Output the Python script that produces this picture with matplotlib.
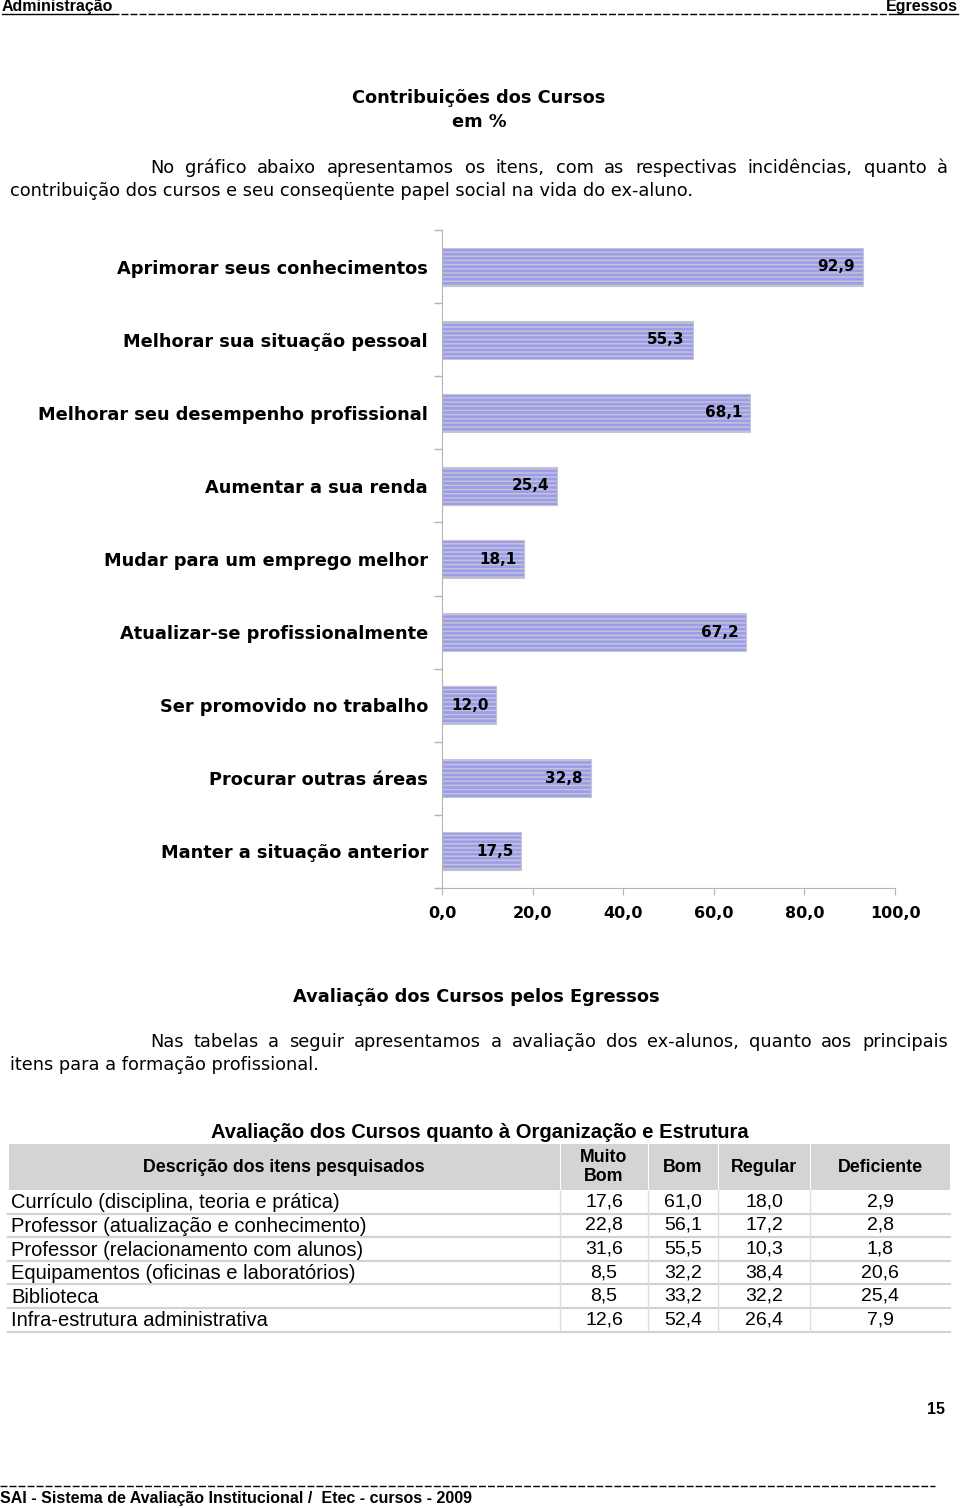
import matplotlib
matplotlib.use("Agg")
import matplotlib.pyplot as plt
from matplotlib import font_manager
from matplotlib.patches import Rectangle
import numpy as np

# bar chart data (top to bottom)
labels = ["Aprimorar seus conhecimentos", "Melhorar sua situação pessoal",
          "Melhorar seu desempenho profissional", "Aumentar a sua renda",
          "Mudar para um emprego melhor", "Atualizar-se profissionalmente",
          "Ser promovido no trabalho", "Procurar outras áreas",
          "Manter a situação anterior"]
values = [92.9, 55.3, 68.1, 25.4, 18.1, 67.2, 12.0, 32.8, 17.5]
xticks = [0, 20, 40, 60, 80, 100]

# table data
table_title = "Avaliação dos Cursos quanto à Organização e Estrutura"
col_headers = ["Descrição dos itens pesquisados", "Muito\nBom", "Bom", "Regular", "Deficiente"]
items = ["Currículo (disciplina, teoria e prática)",
         "Professor (atualização e conhecimento)",
         "Professor (relacionamento com alunos)",
         "Equipamentos (oficinas e laboratórios)",
         "Biblioteca",
         "Infra-estrutura administrativa"]
muito_bom = [17.6, 22.8, 31.6, 8.5, 8.5, 12.6]
bom = [61.0, 56.1, 55.5, 32.2, 33.2, 52.4]
regular = [18.0, 17.2, 10.3, 38.4, 32.2, 26.4]
deficiente = [2.9, 2.8, 1.8, 20.6, 25.4, 7.9]

installed = {f.name for f in font_manager.fontManager.ttflist}
narrow = "Liberation Sans Narrow" if "Liberation Sans Narrow" in installed else "Liberation Sans"

plt.rcParams["font.family"] = "DejaVu Sans"
plt.rcParams["hatch.linewidth"] = 1.1


def fmt(v):
    return f"{v:.1f}".replace(".", ",")


W, H = 960, 1508
fig = plt.figure(figsize=(W / 100, H / 100), dpi=100)

# page axes in pixel coordinates, for all the running text and the table
page = fig.add_axes([0, 0, 1, 1])
page.set_xlim(0, W)
page.set_ylim(H, 0)
page.axis("off")
renderer = fig.canvas.get_renderer()


def justify(line, x0, x1, y, **kw):
    words = line.split()
    ts = [page.text(0, y, w, va="center", **kw) for w in words]
    widths = [t.get_window_extent(renderer).width for t in ts]
    gap = (x1 - x0 - sum(widths)) / (len(ts) - 1)
    x = x0
    for t, w in zip(ts, widths):
        t.set_x(x)
        x += w + gap


# page header
page.text(2, 6, "Administração", fontsize=11.5, fontweight="bold", family=narrow, va="center")
page.text(958, 6, "Egressos", fontsize=11.5, fontweight="bold", family=narrow, va="center", ha="right")
page.plot([2, 112], [14, 14], color="k", lw=1)
page.plot([112, 890], [14, 14], color="k", lw=1, dashes=(5, 1.5))
page.plot([890, 958], [14, 14], color="k", lw=1)

# section 1
page.text(479, 98, "Contribuições dos Cursos", fontsize=12.8, fontweight="bold", ha="center", va="center")
page.text(479, 122, "em %", fontsize=12.8, fontweight="bold", ha="center", va="center")
justify("No gráfico abaixo apresentamos os itens, com as respectivas incidências, quanto à",
        150, 948, 168, fontsize=12.8)
page.text(10, 191, "contribuição dos cursos e seu conseqüente papel social na vida do ex-aluno.",
          fontsize=12.8, va="center")

# bar chart
ax = fig.add_axes([442 / W, 1 - 888 / H, 453 / W, 658 / H])
y = np.arange(len(labels))
ax.barh(y, values, height=0.52, color="#9c9cec", edgecolor="#c4c4d4", hatch="----", linewidth=0.8)
for i, v in enumerate(values):
    ax.text(v - 1.7, i, fmt(v), ha="right", va="center", fontsize=11, fontweight="bold")
ax.set_xlim(0, 100)
ax.set_ylim(len(labels) - 0.5, -0.5)
ax.set_yticks(y)
ax.set_yticklabels(labels, fontsize=12.8, fontweight="bold")
ax.set_yticks(np.arange(-0.5, len(labels)), minor=True)
ax.tick_params(axis="y", which="major", length=0, pad=10)
ax.tick_params(axis="y", which="minor", length=6, color="#b4b4b4", width=1)
ax.set_xticks(xticks)
ax.set_xticklabels([fmt(t) for t in xticks], fontsize=11.5, fontweight="bold")
ax.tick_params(axis="x", length=5, color="#b4b4b4", pad=8)
for s in ["top", "right"]:
    ax.spines[s].set_visible(False)
for s in ["left", "bottom"]:
    ax.spines[s].set_color("#b4b4b4")

# section 2
page.text(476, 997, "Avaliação dos Cursos pelos Egressos", fontsize=12.8, fontweight="bold",
          ha="center", va="center")
justify("Nas tabelas a seguir apresentamos a avaliação dos ex-alunos, quanto aos principais",
        150, 948, 1042, fontsize=12.8)
page.text(10, 1065, "itens para a formação profissional.", fontsize=12.8, va="center")

# table
x_edges = [8, 560, 648, 718, 810, 950]
head_top, head_bot = 1144, 1190
row_h = 23.6
page.text(480, 1133, table_title, fontsize=14.5, fontweight="bold", family=narrow, ha="center", va="center")
for j in range(len(col_headers)):
    page.add_patch(Rectangle((x_edges[j] + 0.5, head_top), x_edges[j + 1] - x_edges[j] - 1,
                             head_bot - head_top, facecolor="#d4d4d4", edgecolor="none"))
    cx = (x_edges[j] + x_edges[j + 1]) / 2
    if j == 0:
        cx = 284
    page.text(cx, (head_top + head_bot) / 2, col_headers[j], fontsize=12.8, fontweight="bold",
              family=narrow, ha="center", va="center", linespacing=1.15)

columns = [muito_bom, bom, regular, deficiente]
for i, item in enumerate(items):
    top = head_bot + i * row_h
    cy = top + row_h / 2
    page.text(11, cy + 1, item, fontsize=14.5, family=narrow, va="center")
    for j, col in enumerate(columns):
        cx = (x_edges[j + 1] + x_edges[j + 2]) / 2
        page.text(cx, cy, fmt(col[i]), fontsize=14, family=narrow, ha="center", va="center")
    page.plot([x_edges[0], x_edges[-1]], [top + row_h, top + row_h], color="#d2d2d2", lw=1.6)
table_bot = head_bot + len(items) * row_h
for xe in x_edges[1:-1]:
    page.plot([xe, xe], [head_bot, table_bot], color="#dcdcdc", lw=1)

# page footer
page.text(936, 1409, "15", fontsize=11.5, fontweight="bold", family=narrow, ha="center", va="center")
page.plot([0, 935], [1486, 1486], color="k", lw=1, dashes=(5, 1.5))
page.text(0, 1499, "SAI - Sistema de Avaliação Institucional /  Etec - cursos - 2009", fontsize=11.5,
          fontweight="bold", family=narrow, va="center")

fig.savefig("out.png", dpi=100)
